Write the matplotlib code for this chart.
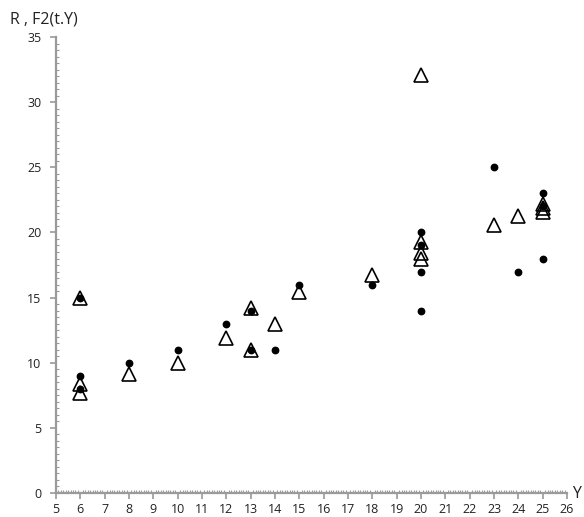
import matplotlib.pyplot as plt
from matplotlib.ticker import MultipleLocator

plt.rcParams['font.family'] = ['Open Sans', 'DejaVu Sans']

# R values (dots)
r_year = [6, 6, 6, 8, 10, 12, 13, 13, 14, 15, 18, 20, 20, 20, 20, 23, 24, 25, 25, 25]
r_val = [15, 9, 8, 10, 11, 13, 14, 11, 11, 16, 16, 20, 19, 17, 14, 25, 17, 23, 22, 18]

# F2(t.Y) values (open triangles)
f2_year = [6, 6, 6, 8, 10, 12, 13, 13, 14, 15, 18, 20, 20, 20, 20, 23, 24, 25, 25, 25]
f2_val = [15.0, 8.4, 7.7, 9.1, 10.0, 11.9, 14.2, 11.0, 13.0, 15.4, 16.7,
          32.1, 19.3, 18.4, 18.0, 20.6, 21.3, 22.2, 21.9, 21.6]

fig = plt.figure(figsize=(5.84, 5.17), dpi=100)
ax = fig.add_axes([0.0959, 0.0464, 0.875, 0.8820])

ax.plot(f2_year, f2_val, linestyle='none', marker='^', markersize=9.5,
        markerfacecolor='none', markeredgecolor='black', markeredgewidth=1.2,
        zorder=3, clip_on=False)
ax.plot(r_year, r_val, linestyle='none', marker='o', markersize=4.6,
        color='black', zorder=4, clip_on=False)

ax.set_xlim(5, 26)
ax.set_ylim(0, 35)
ax.xaxis.set_major_locator(MultipleLocator(1))
ax.xaxis.set_minor_locator(MultipleLocator(0.1))
ax.yaxis.set_major_locator(MultipleLocator(5))
ax.yaxis.set_minor_locator(MultipleLocator(0.5))

axis_grey = '#9a9a9a'
for side in ['top', 'right']:
    ax.spines[side].set_visible(False)
for side in ['left', 'bottom']:
    ax.spines[side].set_color(axis_grey)
    ax.spines[side].set_linewidth(1.6)

ax.tick_params(which='major', direction='out', length=4.5, width=1.2,
               color=axis_grey, labelsize=9, labelcolor='#222222')
ax.tick_params(which='minor', direction='in', length=2.5, width=0.8,
               color=axis_grey)
ax.tick_params(axis='x', which='major', pad=3)
ax.tick_params(axis='y', which='major', pad=6)

fig.text(0.017, 0.962, 'R , F2(t.Y)', fontsize=11.5, color='#222222',
         ha='left', va='center')
fig.text(0.995, 0.044, 'Y', fontsize=11.5, color='#222222',
         ha='right', va='center')

plt.savefig('out.png', dpi=100)
plt.close(fig)
